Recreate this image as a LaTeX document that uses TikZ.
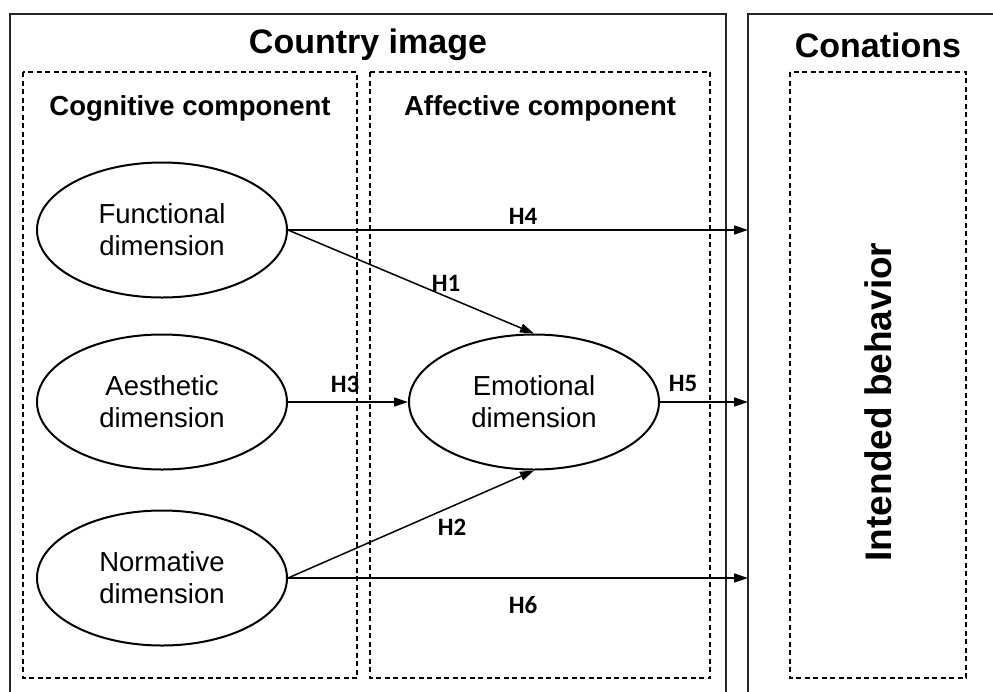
\documentclass[tikz,border=0pt]{standalone}
\usepackage{fontspec}
\setmainfont{Liberation Sans}
\newfontfamily\labelfont{Carlito}
\usetikzlibrary{arrows.meta,shapes.geometric}

\begin{document}
\begin{tikzpicture}[x=1pt,y=-1pt,
  panel/.style={draw=black!85, line width=1.4pt},
  group/.style={draw, line width=1.3pt, dash pattern=on 5pt off 3.5pt},
  dim/.style={ellipse, draw, line width=2pt, minimum width=250pt, minimum height=135pt,
    inner sep=0pt, align=center, font=\fontsize{27.5}{32}\selectfont},
  link/.style={line width=1.5pt, -{Triangle[length=14pt,width=9pt]}},
  hyp/.style={font=\labelfont\bfseries\fontsize{25}{28}\selectfont},
  heading/.style={font=\bfseries\fontsize{34}{38}\selectfont},
  subheading/.style={font=\bfseries\fontsize{27.5}{30}\selectfont}]
\useasboundingbox (0,0) rectangle (993,691);
\clip (0,0) rectangle (993,691);

% outer panels (open at the bottom)
\draw[panel] (10,700) |- (726,14) -- (726,700);
\draw[panel] (748,700) |- (1000,14);
\coordinate (conL) at (748,14);

% dashed groups
\draw[group] (23,72) rectangle (357,678);
\draw[group] (370,72) rectangle (710,678);
\draw[group] (790,72) rectangle (966,678);

% headings
\node[heading] (country) at (368,45) {Country image};
\node[heading] (conations) at (878,45) {Conations};
\node[subheading] (cog) at (190,108) {Cognitive component};
\node[subheading] (aff) at (540,108) {Affective component};
\node[heading, font=\bfseries\fontsize{37}{40}\selectfont, rotate=90] (intended) at (878,402) {Intended behavior};

% dimensions
\node[dim] (func) at (162,230) {Functional\\dimension};
\node[dim] (aest) at (162,402) {Aesthetic\\dimension};
\node[dim] (norm) at (162,578) {Normative\\dimension};
\node[dim] (emo)  at (534,402) {Emotional\\dimension};

% hypotheses
\draw[link] (func.east) -- (func.east -| conL);
\draw[link] (func.east) -- (emo.north);
\draw[link] (aest.east) -- (emo.west);
\draw[link] (emo.east) -- (emo.east -| conL);
\draw[link] (norm.east) -- (emo.south);
\draw[link] (norm.east) -- (norm.east -| conL);

\node[hyp] (h4) at (523,216) {H4};
\node[hyp] (h1) at (446,283) {H1};
\node[hyp] (h3) at (345,384) {H3};
\node[hyp] (h5) at (683,383) {H5};
\node[hyp] (h2) at (452,527) {H2};
\node[hyp] (h6) at (523,605) {H6};
\end{tikzpicture}
\end{document}
